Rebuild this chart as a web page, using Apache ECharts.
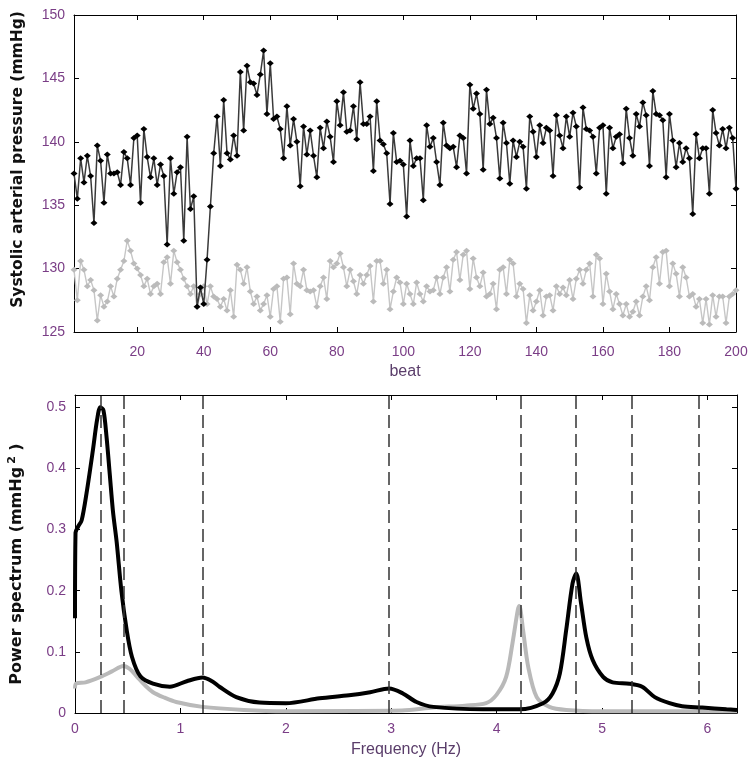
<!DOCTYPE html>
<html>
<head>
<meta charset="utf-8">
<script src="https://cdn.jsdelivr.net/npm/echarts@6/dist/echarts.min.js"></script>
<style>html,body{margin:0;padding:0;background:#fff}#c{width:755px;height:764px}</style>
</head>
<body>
<div id="c"></div>
<script>
// ---- Top panel: systolic arterial pressure per beat ----
const sapBlack = [
137.5,135.5,138.7,136.8,138.9,137.3,133.6,139.7,138.5,135.2,
139.0,137.5,137.5,137.6,136.6,139.2,138.7,136.6,140.3,140.5,
135.2,141.0,138.8,137.2,138.7,136.6,138.2,137.3,131.9,138.7,
135.9,137.6,138.0,132.2,140.4,134.7,135.7,127.0,128.5,127.2,
130.7,134.9,139.1,142.0,138.1,143.3,139.1,138.6,140.5,138.9,
145.5,140.9,146.0,144.7,144.6,143.7,145.3,147.2,142.2,146.2,
141.8,142.0,141.0,138.7,142.8,139.7,141.8,140.0,136.5,141.2,
139.0,140.9,138.9,137.2,141.1,139.5,141.6,140.4,138.4,143.2,
141.3,143.9,140.8,140.9,142.8,140.2,144.7,141.4,141.4,142.0,
137.7,143.2,140.1,139.8,139.1,135.1,140.7,138.4,138.5,138.2,
134.1,140.1,138.1,138.7,138.7,135.4,141.3,139.6,140.3,138.4,
136.6,141.5,139.7,139.5,139.6,138.0,140.5,140.3,137.5,144.5,
142.6,143.8,142.2,137.8,144.1,141.4,141.9,140.3,137.1,141.5,
139.9,136.7,140.1,138.8,140.0,139.6,136.3,142.0,140.8,138.8,
141.3,139.9,141.1,140.9,137.3,142.1,140.5,139.5,142.0,140.4,
142.3,141.2,136.4,142.7,141.0,140.9,140.4,137.5,141.1,141.3,
135.9,141.1,139.5,140.4,140.6,138.3,142.6,140.3,138.9,142.2,
141.2,143.1,142.1,138.1,144.0,142.2,142.1,141.7,137.2,142.2,
140.1,138.0,139.9,138.4,139.5,138.7,134.3,140.6,138.7,139.5,
139.5,135.9,142.5,140.7,139.7,141.0,139.5,141.1,140.3,136.3
];
const sapGray = [
129.9,127.5,130.6,129.9,128.6,129.1,128.3,125.9,127.9,127.0,
127.4,128.6,127.8,129.2,129.9,130.6,132.2,131.4,130.4,130.0,
129.5,128.6,129.2,128.0,128.6,128.8,128.0,130.5,130.9,128.8,
131.4,130.5,129.9,129.2,128.6,128.0,128.6,127.0,128.0,128.6,
127.2,128.6,127.8,127.6,127.0,127.6,126.7,128.3,126.2,130.3,
129.9,128.8,130.1,128.2,127.2,127.8,126.7,127.2,127.9,126.2,
128.4,128.6,125.8,129.2,129.3,126.4,130.4,128.8,128.6,129.9,
128.3,128.2,128.3,127.0,128.6,129.3,127.6,130.6,130.1,130.4,
131.2,130.1,128.6,129.9,129.0,128.0,129.5,128.8,129.5,130.2,
127.4,130.6,130.6,128.8,129.9,126.8,128.2,129.3,128.9,127.2,
128.8,128.0,127.2,128.9,128.0,127.4,128.6,128.2,128.3,129.3,
128.0,129.3,130.1,128.2,130.7,131.3,129.1,131.1,131.4,128.4,
130.8,129.3,128.6,129.7,127.8,128.0,128.8,126.8,129.9,130.1,
128.0,130.7,130.4,127.8,128.8,128.4,125.7,127.9,126.7,127.4,
128.3,126.3,127.8,127.9,126.7,128.6,128.0,128.5,127.9,129.1,
127.6,129.2,129.9,128.8,129.9,130.4,127.8,131.1,130.8,127.2,
129.6,128.2,126.8,128.0,127.2,126.3,127.2,126.2,126.6,127.4,
126.3,127.8,128.6,127.5,130.1,130.9,128.8,131.3,131.4,128.6,
130.4,129.6,127.8,130.1,129.3,127.8,128.0,127.0,127.6,125.7,
127.6,125.6,127.9,126.2,127.8,127.8,125.7,127.8,128.0,128.3
];
const firstBeat = 1;
const beatTicks = [20,40,60,80,100,120,140,160,180,200];
const sapTicks = [125,130,135,140,145,150];

// ---- Bottom panel: power spectrum ----
const freqBlack = [0,0.005,0.03,0.063,0.11,0.17,0.21,0.24,0.27,0.30,0.33,0.36,0.395,0.44,0.49,0.54,0.62,0.74,0.90,1.06,1.21,1.30,1.37,1.53,1.75,2.0,2.32,2.6,2.8,2.98,3.11,3.24,3.4,3.87,4.22,4.44,4.53,4.60,4.66,4.72,4.755,4.80,4.85,4.91,5.01,5.10,5.26,5.38,5.50,5.64,5.76,5.95,6.18,6.28];
const powerBlack = [0.155,0.295,0.305,0.315,0.36,0.43,0.48,0.50,0.495,0.45,0.39,0.33,0.28,0.20,0.136,0.092,0.06,0.048,0.043,0.052,0.058,0.052,0.043,0.026,0.017,0.016,0.024,0.029,0.034,0.040,0.032,0.018,0.010,0.006,0.006,0.016,0.032,0.065,0.136,0.212,0.228,0.18,0.124,0.087,0.059,0.050,0.048,0.043,0.026,0.016,0.011,0.009,0.006,0.005];
const freqGray = [0,0.01,0.1,0.24,0.35,0.46,0.52,0.585,0.66,0.74,0.85,0.96,1.21,1.6,2.0,3.1,3.4,3.7,3.9,4.0,4.09,4.15,4.2,4.215,4.25,4.3,4.38,4.5,4.66,5.0,6.28];
const powerGray = [0.04,0.048,0.05,0.059,0.068,0.077,0.072,0.06,0.046,0.034,0.025,0.018,0.010,0.005,0.003,0.004,0.009,0.012,0.016,0.03,0.059,0.114,0.168,0.175,0.136,0.075,0.026,0.010,0.005,0.003,0.003];
const dashFreqs = [0.243,0.458,1.21,2.98,4.23,4.755,5.277,5.924];
const freqTicks = [0,1,2,3,4,5,6];
const powerTicks = [0,0.1,0.2,0.3,0.4,0.5];

const pair = (xs, ys) => xs.map((x, i) => [x, ys[i]]);
const beatPairs = arr => arr.map((v, i) => [firstBeat + i, v]);

const labelColor = '#7a3d86';
const sansFont = 'Liberation Sans, Arial, sans-serif';
const tickFont = {color: labelColor, fontSize: 14, fontFamily: sansFont};
const axLine = {show: true, onZero: false, lineStyle: {color: '#000', width: 1}};

function mkX(grid, min, max, ticks, margin, opts) {
  return Object.assign({
    type: 'value', gridIndex: grid, min: min, max: max, position: 'bottom',
    axisLine: axLine,
    axisTick: {show: true, inside: true, length: 5, customValues: ticks, lineStyle: {color: '#000'}},
    axisLabel: Object.assign({show: true, customValues: ticks, margin: margin}, tickFont),
    splitLine: {show: false}
  }, opts || {});
}
function mkXTop(grid, min, max, ticks) {
  return {
    type: 'value', gridIndex: grid, min: min, max: max, position: 'top',
    axisLine: axLine,
    axisTick: {show: true, inside: true, length: 5, customValues: ticks, lineStyle: {color: '#000'}},
    axisLabel: {show: false}, splitLine: {show: false}
  };
}
function mkY(grid, min, max, ticks, opts) {
  return Object.assign({
    type: 'value', gridIndex: grid, min: min, max: max, position: 'left',
    axisLine: axLine,
    axisTick: {show: true, inside: true, length: 5, customValues: ticks, lineStyle: {color: '#000'}},
    axisLabel: Object.assign({show: true, customValues: ticks, margin: 9}, tickFont),
    splitLine: {show: false}
  }, opts || {});
}
function mkYRight(grid, min, max, ticks) {
  return {
    type: 'value', gridIndex: grid, min: min, max: max, position: 'right',
    axisLine: axLine,
    axisTick: {show: true, inside: true, length: 5, customValues: ticks, lineStyle: {color: '#000'}},
    axisLabel: {show: false}, splitLine: {show: false}
  };
}

const chart = echarts.init(document.getElementById('c'), null, {renderer: 'canvas'});
chart.setOption({
  animation: false,
  backgroundColor: '#fff',
  grid: [
    {left: 74, right: 19, top: 15, height: 317, containLabel: false, outerBoundsMode: 'none'},
    {left: 75, right: 18, top: 395, height: 318, containLabel: false, outerBoundsMode: 'none'}
  ],
  xAxis: [
    mkX(0, firstBeat, 200, beatTicks, 13, {
      name: 'beat', nameLocation: 'middle', nameGap: 32,
      nameTextStyle: {color: '#5a3d6a', fontSize: 16, fontFamily: sansFont}
    }),
    mkXTop(0, firstBeat, 200, beatTicks),
    mkX(1, 0, 6.28, freqTicks, 9, {
      name: 'Frequency (Hz)', nameLocation: 'middle', nameGap: 29,
      nameTextStyle: {color: '#5a3d6a', fontSize: 16, fontFamily: sansFont}
    }),
    mkXTop(1, 0, 6.28, freqTicks)
  ],
  yAxis: [
    mkY(0, 125, 150, sapTicks, {
      name: 'Systolic arterial pressure (mmHg)', nameLocation: 'middle', nameGap: 48, nameRotate: 90,
      nameTextStyle: {color: '#111', fontSize: 15.5, fontWeight: 'bold', fontFamily: 'DejaVu Sans, sans-serif',
        padding: [0, 0, 0, 28]}
    }),
    mkYRight(0, 125, 150, sapTicks),
    mkY(1, 0, 0.52, powerTicks, {
      name: 'Power spectrum (mmHg{s|2} )', nameLocation: 'middle', nameGap: 49, nameRotate: 90,
      nameTextStyle: {color: '#111', fontSize: 16, fontWeight: 'bold', fontFamily: 'DejaVu Sans, sans-serif',
        padding: [0, 20, 0, 0],
        rich: {s: {fontSize: 11, fontWeight: 'bold', fontFamily: 'DejaVu Sans, sans-serif', color: '#111', padding: [0, 0, 8, 3]}}}
    }),
    mkYRight(1, 0, 0.52, powerTicks)
  ],
  series: [
    {
      type: 'line', xAxisIndex: 0, yAxisIndex: 0, data: beatPairs(sapGray),
      symbol: 'diamond', symbolSize: [7, 6], showSymbol: true,
      lineStyle: {color: '#c6c6c6', width: 1.4}, itemStyle: {color: '#bbbbbb'}, z: 2
    },
    {
      type: 'line', xAxisIndex: 0, yAxisIndex: 0, data: beatPairs(sapBlack),
      symbol: 'diamond', symbolSize: [7, 6], showSymbol: true,
      lineStyle: {color: '#3a3a3a', width: 1.5}, itemStyle: {color: '#000'}, z: 3
    },
    {
      type: 'line', xAxisIndex: 2, yAxisIndex: 2, data: pair(freqGray, powerGray),
      showSymbol: false, smooth: 0.3,
      lineStyle: {color: '#b9b9b9', width: 4}, z: 2
    },
    {
      type: 'line', xAxisIndex: 2, yAxisIndex: 2, data: pair(freqBlack, powerBlack),
      showSymbol: false, smooth: 0.3,
      lineStyle: {color: '#000', width: 4}, z: 3,
      markLine: {
        silent: true, symbol: ['none', 'none'], label: {show: false},
        lineStyle: {type: [13, 6], color: '#333', width: 1.5},
        data: dashFreqs.map(f => ({xAxis: f}))
      }
    }
  ]
});
</script>
</body>
</html>
